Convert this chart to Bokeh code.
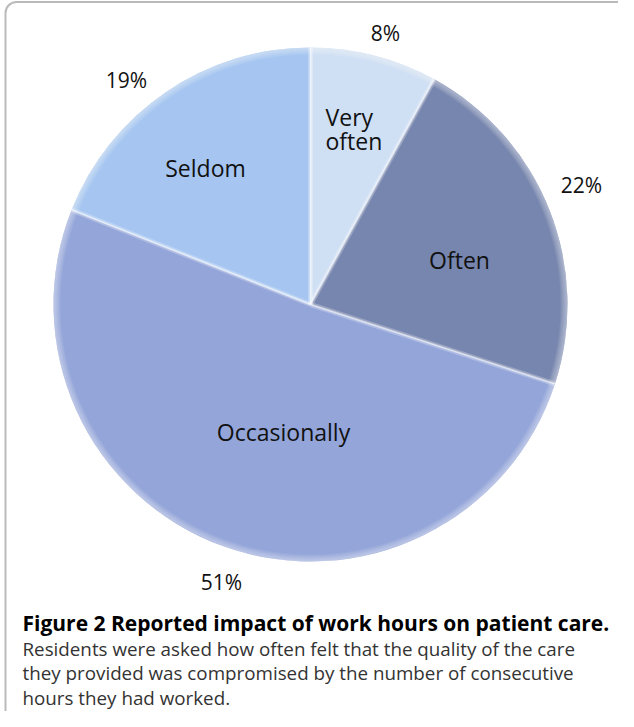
import math
from bokeh.plotting import figure
from bokeh.models import Range1d, BoxAnnotation, ColumnDataSource
from bokeh.core.properties import value
from bokeh.embed import file_html
from bokeh.resources import INLINE

# ---- data ----
categories = ["Very often", "Often", "Occasionally", "Seldom"]
percents = [8, 22, 51, 19]
pct_labels = ["8%", "22%", "51%", "19%"]
colors = ["#cfdff4", "#7786ae", "#93a5d9", "#a6c6f1"]

title_text = "Figure 2 Reported impact of work hours on patient care."
caption_lines = [
    "Residents were asked how often felt that the quality of the care",
    "they provided was compromised by the number of consecutive",
    "hours they had worked.",
]

W, H = 618, 711
def fx(px):
    return px - 8
def fy(py):
    return H - (py - 8)

p = figure(width=W, height=H, output_backend="svg", toolbar_location=None,
           x_range=Range1d(0, W), y_range=Range1d(0, H), min_border=0)
p.axis.visible = False
p.grid.visible = False
p.outline_line_color = None
p.background_fill_color = "white"
p.border_fill_color = "white"

# frame box
box = BoxAnnotation(left=fx(13), right=fx(645), top=H - 1.5, bottom=fy(740),
                    fill_alpha=0, line_color="#1a1a1a", line_width=2,
                    border_radius=11)
p.add_layout(box)

# pie geometry
cx, cy, R = fx(318), fy(312), 257
total = sum(percents)
starts, ends = [], []
a = math.pi / 2
for v in percents:
    starts.append(a)
    a -= v / total * 2 * math.pi
    ends.append(a)

src = ColumnDataSource(dict(start=starts, end=ends, color=colors,
                            x=[cx] * 4, y=[cy] * 4))
p.wedge(x="x", y="y", radius=R, start_angle="start", end_angle="end",
        direction="clock", fill_color="color", line_color=None, source=src)

# soft outer rim
for k in range(7):
    p.annulus(x=cx, y=cy, inner_radius=R - 7 + k, outer_radius=R,
              fill_color="white", fill_alpha=0.07, line_color=None)

# light separators
for s in starts:
    xs = [cx, cx + R * math.cos(s)]
    ys = [cy, cy + R * math.sin(s)]
    p.line(xs, ys, line_color="white", line_width=5, line_alpha=0.25)
    p.line(xs, ys, line_color="white", line_width=2, line_alpha=0.5)

# labels (positions in page pixels)
font = value("Open Sans")
cat_pos = {"Often": (467, 267), "Occasionally": (291, 439), "Seldom": (213, 175)}
for name, (px, py) in cat_pos.items():
    p.text(x=fx(px), y=fy(py), text=value(name), text_font=font,
           text_font_size="23px", text_align="center", text_baseline="middle",
           text_color="#111111")
p.text(x=fx(333), y=fy(124), text=value("Very"), text_font=font,
       text_font_size="23px", text_align="left", text_baseline="middle", text_color="#111111")
p.text(x=fx(333), y=fy(148), text=value("often"), text_font=font,
       text_font_size="23px", text_align="left", text_baseline="middle", text_color="#111111")

pct_pos = [(393, 40), (589, 192), (229, 589), (134, 87)]
for lab, (px, py) in zip(pct_labels, pct_pos):
    p.text(x=fx(px), y=fy(py), text=value(lab), text_font=font,
           text_font_size="21px", text_align="center", text_baseline="middle",
           text_color="#111111")

# caption
p.text(x=fx(30), y=fy(630), text=value(title_text), text_font=font,
       text_font_size="21px", text_font_style="bold", text_align="left",
       text_baseline="middle", text_color="#000000")
for i, line in enumerate(caption_lines):
    p.text(x=fx(30), y=fy(656 + 24.5 * i), text=value(line), text_font=font,
           text_font_size="18.8px", text_align="left", text_baseline="middle",
           text_color="#333333")

open("out.html", "w").write(file_html(p, INLINE))
